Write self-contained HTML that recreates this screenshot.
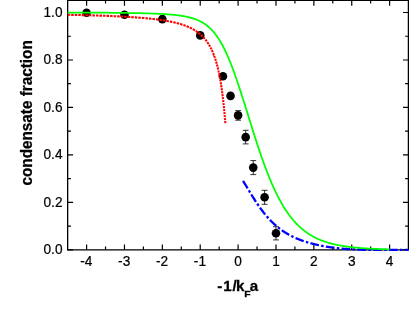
<!DOCTYPE html>
<html><head><meta charset="utf-8"><title>condensate fraction</title>
<style>html,body{margin:0;padding:0;background:#fff;overflow:hidden}svg{display:block;filter:blur(0.35px)}text{font-family:"Liberation Sans",sans-serif;fill:#000}</style></head><body>
<svg width="409" height="315" viewBox="0 0 409 315">
<rect x="0" y="0" width="409" height="315" fill="#fff"/>
<g stroke="#000" stroke-width="1.3" fill="none" stroke-linecap="square">
<path d="M67.65 0.3H408.4V249.9H67.65Z"/>
</g>
<path d="M86.60 249.9v-5.4M86.60 0.3v5.4M124.47 249.9v-5.4M124.47 0.3v5.4M162.35 249.9v-5.4M162.35 0.3v5.4M200.22 249.9v-5.4M200.22 0.3v5.4M238.10 249.9v-5.4M238.10 0.3v5.4M275.98 249.9v-5.4M275.98 0.3v5.4M313.85 249.9v-5.4M313.85 0.3v5.4M351.73 249.9v-5.4M351.73 0.3v5.4M389.60 249.9v-5.4M389.60 0.3v5.4M105.54 249.9v-3.3M105.54 0.3v3.3M143.41 249.9v-3.3M143.41 0.3v3.3M181.29 249.9v-3.3M181.29 0.3v3.3M219.16 249.9v-3.3M219.16 0.3v3.3M257.04 249.9v-3.3M257.04 0.3v3.3M294.91 249.9v-3.3M294.91 0.3v3.3M332.79 249.9v-3.3M332.79 0.3v3.3M370.66 249.9v-3.3M370.66 0.3v3.3M67.65 249.90h5.4M408.4 249.90h-5.4M67.65 202.42h5.4M408.4 202.42h-5.4M67.65 154.94h5.4M408.4 154.94h-5.4M67.65 107.46h5.4M408.4 107.46h-5.4M67.65 59.98h5.4M408.4 59.98h-5.4M67.65 12.50h5.4M408.4 12.50h-5.4M67.65 226.16h3.3M408.4 226.16h-3.3M67.65 178.68h3.3M408.4 178.68h-3.3M67.65 131.20h3.3M408.4 131.20h-3.3M67.65 83.72h3.3M408.4 83.72h-3.3M67.65 36.24h3.3M408.4 36.24h-3.3" stroke="#000" stroke-width="1.2" fill="none"/>
<g font-size="14.4" stroke="#000" stroke-width="0.22">
<text transform="translate(86.30 266.3) scale(0.95 1)" text-anchor="middle">-4</text>
<text transform="translate(124.17 266.3) scale(0.95 1)" text-anchor="middle">-3</text>
<text transform="translate(162.05 266.3) scale(0.95 1)" text-anchor="middle">-2</text>
<text transform="translate(199.92 266.3) scale(0.95 1)" text-anchor="middle">-1</text>
<text transform="translate(238.10 266.3) scale(0.95 1)" text-anchor="middle">0</text>
<text transform="translate(275.98 266.3) scale(0.95 1)" text-anchor="middle">1</text>
<text transform="translate(313.85 266.3) scale(0.95 1)" text-anchor="middle">2</text>
<text transform="translate(351.73 266.3) scale(0.95 1)" text-anchor="middle">3</text>
<text transform="translate(389.60 266.3) scale(0.95 1)" text-anchor="middle">4</text>
<text transform="translate(62.5 254.00) scale(0.95 1)" text-anchor="end">0.0</text>
<text transform="translate(62.5 206.52) scale(0.95 1)" text-anchor="end">0.2</text>
<text transform="translate(62.5 159.04) scale(0.95 1)" text-anchor="end">0.4</text>
<text transform="translate(62.5 111.56) scale(0.95 1)" text-anchor="end">0.6</text>
<text transform="translate(62.5 64.08) scale(0.95 1)" text-anchor="end">0.8</text>
<text transform="translate(62.5 16.60) scale(0.95 1)" text-anchor="end">1.0</text>
</g>
<g stroke="#000" stroke-width="0.8" fill="#000">
<circle cx="86.60" cy="12.80" r="4.3" stroke="none"/>
<circle cx="124.47" cy="14.80" r="4.3" stroke="none"/>
<circle cx="162.35" cy="19.10" r="4.3" stroke="none"/>
<circle cx="200.22" cy="35.40" r="4.3" stroke="none"/>
<circle cx="222.95" cy="76.20" r="4.3" stroke="none"/>
<circle cx="230.53" cy="95.90" r="4.3" stroke="none"/>
<path d="M238.10 110.60V120.20M235.20 110.60h5.8M235.20 120.20h5.8" fill="none"/>
<circle cx="238.10" cy="115.40" r="4.3" stroke="none"/>
<path d="M245.67 130.30V143.90M242.77 130.30h5.8M242.77 143.90h5.8" fill="none"/>
<circle cx="245.67" cy="137.10" r="4.3" stroke="none"/>
<path d="M253.25 160.60V174.60M250.35 160.60h5.8M250.35 174.60h5.8" fill="none"/>
<circle cx="253.25" cy="167.60" r="4.3" stroke="none"/>
<path d="M264.61 190.30V204.30M261.71 190.30h5.8M261.71 204.30h5.8" fill="none"/>
<circle cx="264.61" cy="197.30" r="4.3" stroke="none"/>
<path d="M275.98 226.70V239.90M273.08 226.70h5.8M273.08 239.90h5.8" fill="none"/>
<circle cx="275.98" cy="233.30" r="4.3" stroke="none"/>
</g>
<path d="M67.66 14.78L68.40 14.79L69.13 14.81L69.86 14.82L70.14 14.83M71.20 14.85L71.31 14.85L72.03 14.87L72.75 14.88L73.46 14.90L73.68 14.90M74.74 14.93L74.88 14.93L75.58 14.94L76.29 14.96L76.98 14.98L77.22 14.98M78.28 15.01L78.37 15.01L79.06 15.02L79.75 15.04L80.43 15.06L80.76 15.07M81.82 15.09L82.47 15.11L83.14 15.12L83.81 15.14L84.29 15.15M85.36 15.18L85.80 15.19L86.45 15.21L87.11 15.23L87.76 15.25L87.83 15.25M88.89 15.28L89.06 15.28L89.70 15.30L90.34 15.32L90.98 15.34L91.37 15.35M92.43 15.38L92.88 15.39L93.50 15.41L94.13 15.43L94.75 15.45L94.91 15.46M95.97 15.49L95.98 15.49L96.60 15.51L97.21 15.53L97.82 15.55L98.42 15.57L98.45 15.57M99.51 15.60L99.63 15.61L100.22 15.63L100.82 15.65L101.41 15.67L101.98 15.69M103.04 15.73L103.17 15.73L103.76 15.75L104.34 15.77L104.91 15.79L105.49 15.82L105.52 15.82M106.58 15.86L106.63 15.86L107.20 15.88L107.77 15.90L108.33 15.92L108.89 15.95L109.06 15.95M110.12 16.00L110.55 16.02L111.11 16.04L111.65 16.06L112.20 16.08L112.59 16.10M113.65 16.15L113.82 16.15L114.36 16.18L114.89 16.20L115.43 16.23L115.96 16.25L116.13 16.26M117.19 16.31L117.53 16.32L118.05 16.35L118.57 16.37L119.09 16.40L119.60 16.43L119.66 16.43M120.72 16.48L121.13 16.50L121.63 16.53L122.14 16.55L122.64 16.58L123.13 16.61L123.19 16.61M124.25 16.67L124.62 16.69L125.11 16.72L125.60 16.74L126.08 16.77L126.56 16.80L126.73 16.81M127.79 16.87L128.00 16.88L128.48 16.91L128.95 16.94L129.42 16.97L129.89 17.00L130.26 17.02M131.32 17.09L131.75 17.12L132.21 17.15L132.67 17.18L133.12 17.21L133.57 17.24L133.79 17.25M134.85 17.33L134.92 17.33L135.37 17.36L135.81 17.39L136.25 17.43L136.69 17.46L137.13 17.49L137.32 17.50M138.37 17.58L138.43 17.59L138.86 17.62L139.29 17.66L139.72 17.69L140.14 17.72L140.56 17.76L140.84 17.78M141.90 17.87L142.24 17.89L142.65 17.93L143.06 17.97L143.47 18.00L143.88 18.04L144.29 18.07L144.36 18.08M145.42 18.17L145.50 18.18L145.90 18.22L146.30 18.26L146.69 18.29L147.09 18.33L147.48 18.37L147.87 18.41L147.88 18.41M148.94 18.51L149.04 18.52L149.42 18.56L149.80 18.60L150.19 18.64L150.56 18.68L150.94 18.72L151.32 18.76L151.40 18.77M152.45 18.89L152.81 18.93L153.18 18.97L153.54 19.01L153.91 19.05L154.27 19.10L154.63 19.14L154.90 19.17M155.95 19.30L156.07 19.31L156.42 19.36L156.77 19.40L157.12 19.45L157.47 19.49L157.82 19.54L158.17 19.59L158.40 19.62M159.45 19.76L159.54 19.77L159.88 19.82L160.22 19.87L160.55 19.91L160.89 19.96L161.22 20.01L161.55 20.06L161.88 20.11L161.90 20.11M162.94 20.27L163.19 20.31L163.51 20.36L163.84 20.41L164.16 20.46L164.48 20.51L164.79 20.57L165.11 20.62L165.38 20.66M166.42 20.84L166.67 20.89L166.98 20.94L167.29 21.00L167.59 21.05L167.90 21.11L168.20 21.16L168.50 21.22L168.80 21.28L168.84 21.28M169.87 21.48L169.99 21.51L170.29 21.57L170.58 21.63L170.87 21.69L171.16 21.75L171.45 21.81L171.74 21.87L172.02 21.93L172.28 21.98M173.31 22.21L173.44 22.24L173.72 22.30L174.00 22.37L174.27 22.43L174.55 22.49L174.82 22.56L175.10 22.62L175.37 22.69L175.64 22.76L175.70 22.77M176.71 23.03L176.98 23.10L177.24 23.16L177.50 23.23L177.76 23.30L178.02 23.37L178.28 23.44L178.54 23.52L178.80 23.59L179.05 23.66L179.08 23.67M180.08 23.96L180.32 24.03L180.57 24.10L180.82 24.18L181.06 24.25L181.31 24.33L181.56 24.41L181.80 24.49L182.04 24.56L182.28 24.64L182.41 24.68M183.39 25.01L183.48 25.04L183.71 25.12L183.95 25.21L184.18 25.29L184.42 25.37L184.65 25.46L184.88 25.54L185.11 25.63L185.34 25.71L185.56 25.80L185.67 25.84M186.64 26.21L186.69 26.24L186.91 26.33L187.13 26.42L187.35 26.51L187.57 26.60L187.79 26.69L188.01 26.78L188.22 26.87L188.44 26.97L188.65 27.06L188.85 27.15M189.79 27.58L189.92 27.64L190.13 27.74L190.34 27.84L190.54 27.94L190.75 28.04L190.95 28.14L191.15 28.24L191.36 28.34L191.56 28.45L191.76 28.55L191.93 28.64M192.82 29.12L192.95 29.19L193.14 29.30L193.34 29.41L193.53 29.52L193.72 29.63L193.91 29.74L194.10 29.85L194.29 29.96L194.48 30.08L194.67 30.19L194.86 30.31L194.87 30.31M195.72 30.85L195.79 30.89L195.97 31.01L196.15 31.13L196.33 31.26L196.51 31.38L196.69 31.50L196.87 31.63L197.05 31.75L197.22 31.87L197.40 32.00L197.58 32.13L197.64 32.17M198.44 32.77L198.44 32.78L198.62 32.91L198.79 33.04L198.96 33.17L199.12 33.31L199.29 33.44L199.46 33.58L199.63 33.72L199.79 33.86L199.96 33.99L200.12 34.13L200.22 34.22M200.96 34.87L201.10 34.99L201.26 35.14L201.42 35.29L201.57 35.44L201.73 35.59L201.89 35.74L202.04 35.89L202.20 36.04L202.36 36.19L202.51 36.35L202.60 36.44M203.28 37.14L203.42 37.29L203.57 37.46L203.72 37.62L203.87 37.78L204.02 37.95L204.16 38.11L204.31 38.28L204.46 38.45L204.60 38.62L204.75 38.79L204.77 38.81M205.38 39.55L205.46 39.65L205.60 39.83L205.74 40.01L205.88 40.19L206.02 40.37L206.16 40.55L206.30 40.73L206.43 40.91L206.57 41.10L206.71 41.29L206.73 41.31M207.27 42.08L207.38 42.24L207.51 42.43L207.64 42.62L207.77 42.82L207.91 43.02L208.04 43.22L208.17 43.42L208.30 43.62L208.42 43.82L208.48 43.92M208.98 44.71L209.06 44.85L209.18 45.06L209.31 45.28L209.43 45.49L209.56 45.70L209.68 45.92L209.80 46.14L209.93 46.36L210.05 46.58L210.06 46.60M210.50 47.42L210.53 47.47L210.65 47.70L210.77 47.93L210.88 48.16L211.00 48.39L211.12 48.63L211.23 48.86L211.35 49.10L211.47 49.34L211.47 49.35M211.87 50.19L211.92 50.31L212.04 50.55L212.15 50.80L212.26 51.05L212.37 51.30L212.48 51.55L212.59 51.81L212.70 52.06L212.74 52.15M213.10 53.00L213.14 53.10L213.25 53.37L213.36 53.63L213.46 53.90L213.57 54.17L213.67 54.44L213.78 54.72L213.88 54.99L213.89 54.99M214.21 55.85L214.30 56.11L214.40 56.39L214.51 56.68L214.61 56.97L214.71 57.26L214.81 57.55L214.91 57.84L214.92 57.86M215.21 58.73L215.21 58.73L215.31 59.03L215.41 59.34L215.50 59.64L215.60 59.95L215.70 60.26L215.80 60.57L215.85 60.75M216.12 61.63L216.18 61.83L216.27 62.15L216.37 62.48L216.46 62.80L216.55 63.13L216.65 63.46L216.71 63.67M216.95 64.54L217.02 64.80L217.11 65.14L217.20 65.48L217.29 65.83L217.38 66.17L217.47 66.52L217.48 66.59M217.71 67.47L217.73 67.59L217.82 67.94L217.91 68.31L218.00 68.67L218.08 69.03L218.17 69.40L218.20 69.53M218.40 70.41L218.43 70.52L218.51 70.90L218.60 71.28L218.68 71.66L218.76 72.05L218.85 72.44L218.86 72.48M219.04 73.36L219.10 73.61L219.18 74.01L219.26 74.41L219.34 74.82L219.42 75.22L219.46 75.43M219.64 76.32L219.66 76.45L219.74 76.87L219.82 77.29L219.90 77.71L219.98 78.14L220.03 78.40M220.19 79.29L220.21 79.43L220.29 79.86L220.37 80.30L220.44 80.74L220.52 81.19L220.55 81.36M220.70 82.25L220.75 82.54L220.82 82.99L220.90 83.45L220.97 83.91L221.04 84.33M221.18 85.23L221.19 85.32L221.26 85.79L221.34 86.27L221.41 86.75L221.48 87.23L221.49 87.31M221.62 88.20L221.62 88.21L221.70 88.70L221.77 89.20L221.84 89.70L221.91 90.20L221.92 90.29M222.04 91.18L222.05 91.22L222.12 91.73L222.18 92.25L222.25 92.76L222.32 93.27M222.43 94.16L222.46 94.34L222.53 94.88L222.59 95.41L222.66 95.95L222.70 96.25M222.81 97.15L222.86 97.59L222.92 98.15L222.99 98.70L223.05 99.24M223.15 100.13L223.18 100.40L223.25 100.97L223.31 101.55L223.38 102.13L223.39 102.22M223.48 103.12L223.50 103.30L223.57 103.89L223.63 104.48L223.69 105.08L223.71 105.21M223.80 106.11L223.82 106.29L223.88 106.90L223.94 107.52L224.00 108.14L224.01 108.20M224.09 109.10L224.12 109.39L224.18 110.02L224.24 110.65L224.29 111.19M224.38 112.09L224.42 112.58L224.48 113.23L224.54 113.89L224.56 114.18M224.64 115.08L224.66 115.21L224.71 115.88L224.77 116.56L224.82 117.17M224.90 118.07L224.94 118.60L225.00 119.29L225.06 119.99L225.07 120.17M225.14 121.06L225.17 121.39L225.23 122.10L225.28 122.82L225.31 123.16" fill="none" stroke="#ff0000" stroke-width="2.1"/>
<path d="M243.10 180.94L243.38 181.39L243.65 181.84L243.93 182.29L244.20 182.74L244.48 183.19L244.76 183.64L245.03 184.10L245.31 184.55L245.59 185.01L245.86 185.47L246.14 185.92L246.41 186.38L246.69 186.84L246.97 187.30L247.24 187.75L247.52 188.21L247.62 188.38M248.81 190.35L248.90 190.50L249.18 190.95L249.45 191.41L249.73 191.86L250.00 192.32L250.11 192.48M251.31 194.44L251.39 194.57L251.66 195.02L251.94 195.46L252.21 195.91L252.49 196.35L252.77 196.79L253.04 197.23L253.32 197.67L253.59 198.10L253.87 198.54L254.15 198.97L254.42 199.40L254.70 199.83L254.98 200.26L255.25 200.69L255.53 201.11L255.80 201.53L255.97 201.79M257.25 203.70L257.46 204.01L257.74 204.42L258.01 204.82L258.29 205.23L258.57 205.62L258.66 205.76M259.99 207.64L260.22 207.97L260.50 208.35L260.78 208.73L261.05 209.11L261.33 209.48L261.60 209.85L261.88 210.22L262.16 210.59L262.43 210.95L262.71 211.32L262.99 211.67L263.26 212.03L263.54 212.38L263.81 212.74L264.09 213.08L264.37 213.43L264.64 213.77L264.92 214.11L265.19 214.45L265.27 214.55M266.75 216.31L266.85 216.42L267.13 216.74L267.40 217.06L267.68 217.38L267.96 217.69L268.23 218.00L268.40 218.19M269.97 219.88L270.17 220.09L270.44 220.38L270.72 220.66L270.99 220.95L271.27 221.23L271.55 221.51L271.82 221.78L272.10 222.06L272.38 222.33L272.65 222.60L272.93 222.86L273.20 223.13L273.48 223.39L273.76 223.65L274.03 223.91L274.31 224.16L274.59 224.41L274.86 224.66L275.14 224.91L275.41 225.15L275.69 225.40L275.97 225.64L276.24 225.88L276.25 225.89M278.02 227.36L278.18 227.49L278.45 227.71L278.73 227.93L279.00 228.14L279.28 228.36L279.56 228.57L279.83 228.78L279.99 228.90M281.84 230.26L282.04 230.40L282.32 230.59L282.59 230.78L282.87 230.97L283.15 231.16L283.42 231.35L283.70 231.53L283.98 231.71L284.25 231.89L284.53 232.07L284.80 232.25L285.08 232.43L285.36 232.60L285.63 232.77L285.91 232.94L286.19 233.11L286.46 233.28L286.74 233.45L287.01 233.61L287.29 233.77L287.57 233.93L287.84 234.09L288.12 234.25L288.39 234.41L288.67 234.56L288.95 234.72L289.22 234.86M291.25 235.94L291.43 236.03L291.71 236.17L291.99 236.31L292.26 236.45L292.54 236.58L292.81 236.72L293.09 236.85L293.37 236.98L293.49 237.04M295.59 237.99L295.85 238.11L296.13 238.23L296.40 238.35L296.68 238.47L296.96 238.58L297.23 238.70L297.51 238.81L297.79 238.93L298.06 239.04L298.34 239.15L298.61 239.26L298.89 239.37L299.17 239.48L299.44 239.59L299.72 239.69L299.99 239.80L300.27 239.90L300.55 240.01L300.82 240.11L301.10 240.21L301.38 240.31L301.65 240.41L301.93 240.51L302.20 240.61L302.48 240.70L302.76 240.80L303.03 240.90L303.31 240.99L303.59 241.08L303.70 241.12M305.89 241.84L306.07 241.89L306.35 241.98L306.62 242.06L306.90 242.15L307.18 242.23L307.45 242.32L307.73 242.40L308.00 242.48L308.28 242.56L308.28 242.56M310.49 243.19L310.77 243.26L311.04 243.33L311.32 243.41L311.59 243.48L311.87 243.55L312.15 243.63L312.42 243.70L312.70 243.77L312.98 243.84L313.25 243.91L313.53 243.98L313.80 244.05L314.08 244.11L314.36 244.18L314.63 244.25L314.91 244.31L315.19 244.38L315.46 244.44L315.74 244.51L316.01 244.57L316.29 244.64L316.57 244.70L316.84 244.76L317.12 244.82L317.39 244.89L317.67 244.95L317.95 245.01L318.22 245.07L318.50 245.13L318.78 245.19L318.95 245.22M321.20 245.68L321.26 245.70L321.54 245.75L321.81 245.80L322.09 245.86L322.37 245.91L322.64 245.96L322.92 246.01L323.19 246.07L323.47 246.12L323.66 246.15M325.93 246.55L325.96 246.56L326.23 246.60L326.51 246.65L326.79 246.70L327.06 246.74L327.34 246.79L327.61 246.83L327.89 246.88L328.17 246.92L328.44 246.96L328.72 247.01L328.99 247.05L329.27 247.09L329.55 247.14L329.82 247.18L330.10 247.22L330.38 247.26L330.65 247.30L330.93 247.34L331.20 247.38L331.48 247.42L331.76 247.46L332.03 247.50L332.31 247.53L332.59 247.57L332.86 247.61L333.14 247.65L333.41 247.68L333.69 247.72L333.97 247.75L334.24 247.79L334.52 247.83L334.53 247.83M336.81 248.10L337.00 248.12L337.28 248.16L337.56 248.19L337.83 248.22L338.11 248.25L338.39 248.28L338.66 248.31L338.94 248.34L339.21 248.37L339.30 248.38M341.59 248.60L341.70 248.61L341.98 248.64L342.25 248.66L342.53 248.69L342.80 248.71L343.08 248.74L343.36 248.76L343.63 248.78L343.91 248.81L344.19 248.83L344.46 248.85L344.74 248.87L345.01 248.90L345.29 248.92L345.57 248.94L345.84 248.96L346.12 248.98L346.39 249.00L346.67 249.02L346.95 249.04L347.22 249.06L347.50 249.08L347.78 249.10L348.05 249.12L348.33 249.13L348.60 249.15L348.88 249.17L349.16 249.19L349.43 249.20L349.71 249.22L349.99 249.24L350.26 249.25L350.26 249.25M352.56 249.38L352.75 249.39L353.02 249.40L353.30 249.41L353.58 249.43L353.85 249.44L354.13 249.45L354.40 249.46L354.68 249.48L354.96 249.49L355.06 249.49M357.36 249.58L357.44 249.58L357.72 249.59L357.99 249.60L358.27 249.61L358.55 249.62L358.82 249.63L359.10 249.63L359.38 249.64L359.65 249.65L359.93 249.66L360.20 249.67L360.48 249.67L360.76 249.68L361.03 249.69L361.31 249.69L361.59 249.70L361.86 249.71L362.14 249.71L362.41 249.72L362.69 249.73L362.97 249.73L363.24 249.74L363.52 249.74L363.79 249.75L364.07 249.75L364.35 249.76L364.62 249.76L364.90 249.77L365.18 249.77L365.45 249.78L365.73 249.78L366.00 249.79L366.05 249.79M368.35 249.82L368.49 249.82L368.77 249.82L369.04 249.83L369.32 249.83L369.59 249.83L369.87 249.83L370.15 249.84L370.42 249.84L370.70 249.84L370.85 249.84M373.15 249.86L373.19 249.86L373.46 249.86L373.74 249.86L374.01 249.87L374.29 249.87L374.57 249.87L374.84 249.87L375.12 249.87L375.39 249.87L375.67 249.87L375.95 249.88L376.22 249.88L376.50 249.88L376.78 249.88L377.05 249.88L377.33 249.88L377.60 249.88L377.88 249.88L378.16 249.88L378.43 249.88L378.71 249.89L378.99 249.89L379.26 249.89L379.54 249.89L379.81 249.89L380.09 249.89L380.37 249.89L380.64 249.89L380.92 249.89L381.19 249.89L381.47 249.89L381.75 249.89L381.85 249.89M384.15 249.90L384.23 249.90L384.51 249.90L384.79 249.90L385.06 249.90L385.34 249.90L385.61 249.90L385.89 249.90L386.17 249.90L386.44 249.90L386.65 249.90M388.95 249.90L389.20 249.90L389.48 249.90L389.76 249.90L390.03 249.90L390.31 249.90L390.59 249.90L390.86 249.90L391.14 249.90L391.41 249.90L391.69 249.90L391.97 249.90L392.24 249.90L392.52 249.90L392.79 249.90L393.07 249.90L393.35 249.90L393.62 249.90L393.90 249.90L394.18 249.90L394.45 249.90L394.73 249.90L395.00 249.90L395.28 249.90L395.56 249.90L395.83 249.90L396.11 249.90L396.39 249.90L396.66 249.90L396.94 249.90L397.21 249.90L397.49 249.90L397.65 249.90M399.95 249.90L399.98 249.90L400.25 249.90L400.53 249.90L400.80 249.90L401.08 249.90L401.36 249.90L401.63 249.90L401.91 249.90L402.19 249.90L402.45 249.90M404.75 249.90L404.95 249.90L405.22 249.90L405.50 249.90L405.78 249.90L406.05 249.90L406.33 249.90L406.60 249.90L406.88 249.90L407.16 249.90L407.43 249.90L407.71 249.90L407.99 249.90L408.26 249.90L408.54 249.90" fill="none" stroke="#0000ff" stroke-width="2.3"/>
<path d="M67.66 12.64 L68.47 12.64 L69.28 12.64 L70.08 12.65 L70.89 12.65 L71.70 12.65 L72.50 12.65 L73.31 12.65 L74.12 12.66 L74.92 12.66 L75.73 12.66 L76.54 12.66 L77.34 12.66 L78.15 12.67 L78.96 12.67 L79.77 12.67 L80.57 12.68 L81.38 12.68 L82.19 12.68 L82.99 12.68 L83.80 12.69 L84.61 12.69 L85.41 12.69 L86.22 12.70 L87.03 12.70 L87.83 12.70 L88.64 12.70 L89.45 12.71 L90.25 12.71 L91.06 12.71 L91.87 12.71 L92.68 12.71 L93.48 12.71 L94.29 12.71 L95.10 12.71 L95.90 12.71 L96.71 12.71 L97.52 12.71 L98.32 12.71 L99.13 12.71 L99.94 12.70 L100.74 12.70 L101.55 12.70 L102.36 12.70 L103.16 12.70 L103.97 12.71 L104.78 12.72 L105.58 12.72 L106.39 12.73 L107.20 12.73 L108.01 12.74 L108.81 12.75 L109.62 12.75 L110.43 12.76 L111.23 12.76 L112.04 12.77 L112.85 12.78 L113.65 12.78 L114.46 12.80 L115.27 12.81 L116.07 12.82 L116.88 12.84 L117.69 12.85 L118.49 12.86 L119.30 12.88 L120.11 12.89 L120.92 12.90 L121.72 12.92 L122.53 12.93 L123.34 12.94 L124.14 12.96 L124.95 12.97 L125.76 12.98 L126.56 12.99 L127.37 13.00 L128.18 13.01 L128.98 13.02 L129.79 13.03 L130.60 13.04 L131.40 13.05 L132.21 13.06 L133.02 13.08 L133.83 13.09 L134.63 13.11 L135.44 13.12 L136.25 13.14 L137.05 13.15 L137.86 13.17 L138.67 13.18 L139.47 13.20 L140.28 13.21 L141.09 13.23 L141.89 13.25 L142.70 13.27 L143.51 13.29 L144.31 13.31 L145.12 13.33 L145.93 13.35 L146.73 13.37 L147.54 13.39 L148.35 13.41 L149.16 13.44 L149.96 13.47 L150.77 13.50 L151.58 13.53 L152.38 13.55 L153.19 13.58 L154.00 13.61 L154.80 13.64 L155.61 13.67 L156.42 13.70 L157.22 13.73 L158.03 13.76 L158.84 13.79 L159.64 13.82 L160.45 13.85 L161.26 13.88 L162.07 13.94 L162.87 13.99 L163.68 14.05 L164.49 14.10 L165.29 14.16 L166.10 14.22 L166.91 14.27 L167.71 14.33 L168.52 14.40 L169.33 14.47 L170.13 14.53 L170.94 14.60 L171.75 14.66 L172.55 14.73 L173.36 14.82 L174.17 14.90 L174.97 14.99 L175.78 15.07 L176.59 15.16 L177.40 15.25 L178.20 15.35 L179.01 15.46 L179.82 15.56 L180.62 15.66 L181.43 15.77 L182.24 15.91 L183.04 16.06 L183.85 16.21 L184.66 16.36 L185.46 16.51 L186.27 16.68 L187.08 16.85 L187.88 17.02 L188.69 17.18 L189.50 17.39 L190.31 17.61 L191.11 17.83 L191.92 18.05 L192.73 18.31 L193.53 18.58 L194.34 18.85 L195.15 19.13 L195.95 19.43 L196.76 19.74 L197.57 20.04 L198.37 20.42 L199.18 20.80 L199.99 21.19 L200.79 21.60 L201.60 22.02 L202.41 22.48 L203.22 22.97 L204.02 23.49 L204.83 24.02 L205.64 24.58 L206.44 25.17 L207.25 25.80 L208.06 26.45 L208.86 27.12 L209.67 27.87 L210.48 28.62 L211.28 29.41 L212.09 30.28 L212.90 31.15 L213.70 32.09 L214.51 33.06 L215.32 34.08 L216.12 35.15 L216.93 36.26 L217.74 37.42 L218.55 38.64 L219.35 39.90 L220.16 41.21 L220.97 42.59 L221.77 44.02 L222.58 45.50 L223.39 47.03 L224.19 48.62 L225.00 50.26 L225.81 51.96 L226.61 53.71 L227.42 55.51 L228.23 57.36 L229.03 59.27 L229.84 61.23 L230.65 63.24 L231.46 65.29 L232.26 67.41 L233.07 69.54 L233.88 71.75 L234.68 73.98 L235.49 76.26 L236.30 78.58 L237.10 80.93 L237.91 83.30 L238.72 85.72 L239.52 88.15 L240.33 90.64 L241.14 93.12 L241.94 95.65 L242.75 98.18 L243.56 100.72 L244.37 103.29 L245.17 105.87 L245.98 108.45 L246.79 111.04 L247.59 113.63 L248.40 116.23 L249.21 118.83 L250.01 121.42 L250.82 124.01 L251.63 126.59 L252.43 129.15 L253.24 131.71 L254.05 134.26 L254.85 136.77 L255.66 139.28 L256.47 141.78 L257.27 144.23 L258.08 146.67 L258.89 149.11 L259.70 151.48 L260.50 153.84 L261.31 156.20 L262.12 158.48 L262.92 160.75 L263.73 163.03 L264.54 165.21 L265.34 167.38 L266.15 169.54 L266.96 171.62 L267.76 173.68 L268.57 175.74 L269.38 177.72 L270.18 179.66 L270.99 181.61 L271.80 183.48 L272.61 185.30 L273.41 187.13 L274.22 188.89 L275.03 190.60 L275.83 192.31 L276.64 193.97 L277.45 195.56 L278.25 197.15 L279.06 198.70 L279.87 200.18 L280.67 201.66 L281.48 203.10 L282.29 204.47 L283.09 205.83 L283.90 207.18 L284.71 208.44 L285.51 209.70 L286.32 210.95 L287.13 212.11 L287.94 213.27 L288.74 214.42 L289.55 215.48 L290.36 216.55 L291.16 217.61 L291.97 218.59 L292.78 219.56 L293.58 220.54 L294.39 221.43 L295.20 222.33 L296.00 223.22 L296.81 224.04 L297.62 224.85 L298.42 225.67 L299.23 226.42 L300.04 227.16 L300.85 227.90 L301.65 228.59 L302.46 229.27 L303.27 229.94 L304.07 230.57 L304.88 231.19 L305.69 231.80 L306.49 232.38 L307.30 232.94 L308.11 233.50 L308.91 234.02 L309.72 234.53 L310.53 235.03 L311.33 235.51 L312.14 235.97 L312.95 236.43 L313.76 236.87 L314.56 237.28 L315.37 237.70 L316.18 238.10 L316.98 238.47 L317.79 238.85 L318.60 239.21 L319.40 239.55 L320.21 239.90 L321.02 240.22 L321.82 240.53 L322.63 240.85 L323.44 241.14 L324.24 241.42 L325.05 241.70 L325.86 241.97 L326.66 242.23 L327.47 242.48 L328.28 242.73 L329.09 242.96 L329.89 243.19 L330.70 243.41 L331.51 243.62 L332.31 243.83 L333.12 244.03 L333.93 244.21 L334.73 244.40 L335.54 244.58 L336.35 244.76 L337.15 244.93 L337.96 245.09 L338.77 245.25 L339.57 245.40 L340.38 245.55 L341.19 245.69 L342.00 245.83 L342.80 245.96 L343.61 246.09 L344.42 246.22 L345.22 246.34 L346.03 246.45 L346.84 246.57 L347.64 246.68 L348.45 246.78 L349.26 246.89 L350.06 246.99 L350.87 247.08 L351.68 247.17 L352.48 247.26 L353.29 247.35 L354.10 247.43 L354.90 247.52 L355.71 247.59 L356.52 247.67 L357.33 247.74 L358.13 247.81 L358.94 247.88 L359.75 247.95 L360.55 248.01 L361.36 248.07 L362.17 248.14 L362.97 248.19 L363.78 248.25 L364.59 248.30 L365.39 248.36 L366.20 248.41 L367.01 248.46 L367.81 248.50 L368.62 248.55 L369.43 248.59 L370.24 248.64 L371.04 248.68 L371.85 248.72 L372.66 248.76 L373.46 248.79 L374.27 248.83 L375.08 248.87 L375.88 248.90 L376.69 248.93 L377.50 248.96 L378.30 249.00 L379.11 249.03 L379.92 249.05 L380.72 249.08 L381.53 249.11 L382.34 249.13 L383.15 249.16 L383.95 249.19 L384.76 249.21 L385.57 249.23 L386.37 249.25 L387.18 249.27 L387.99 249.29 L388.79 249.32 L389.60 249.33" fill="none" stroke="#00ff00" stroke-width="1.75"/>
<g font-weight="bold" stroke="#000" stroke-width="0.25">
<text transform="translate(32 112.9) rotate(-90) scale(1 1.05)" font-size="15.3" text-anchor="middle">condensate fraction</text>
<text transform="translate(217.2 291.1) scale(1.06 1)" font-size="14.3">-<tspan dx="0.85">1</tspan><tspan dx="0.8">/</tspan><tspan dx="-0.7">k</tspan><tspan font-size="9.9" dx="-0.1" dy="5.9">F</tspan><tspan dx="-0.7" dy="-5.9">a</tspan></text>
</g>
</svg></body></html>
